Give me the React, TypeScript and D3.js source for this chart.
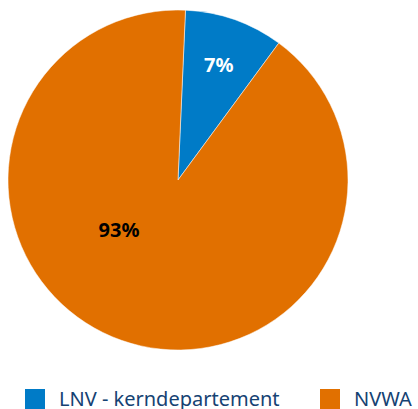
import React from 'react';
import * as d3 from 'd3';

const categories = ['LNV - kerndepartement', 'NVWA'];
const shares = [9.4, 90.6];
const labels = ['7%', '93%'];
const colors = ['#007bc7', '#e17000'];
const labelColors = ['#ffffff', '#000000'];

const width = 418;
const height = 409;
const cx = 178;
const cy = 180;
const radius = 170;
const startAngle = 0.044;

const App = () => {
  const pie = d3
    .pie<number>()
    .sort(null)
    .startAngle(startAngle)
    .endAngle(startAngle + Math.PI * 2)
    .value(d => d);
  const arcs = pie(shares);
  const arc = d3.arc<d3.PieArcDatum<number>>().innerRadius(0).outerRadius(radius);
  const labelArc = d3.arc<d3.PieArcDatum<number>>().innerRadius(radius * 0.72).outerRadius(radius * 0.72);

  // big slice label sits inside, towards the left
  const labelPos = (d: d3.PieArcDatum<number>, i: number) => {
    if (i === 0) return labelArc.centroid(d);
    const a = (230 * Math.PI) / 180;
    return [Math.sin(a) * 77, -Math.cos(a) * 77];
  };

  const legendX = [25, 320];

  return (
    <svg width={width} height={height} style={{ position: 'absolute', left: 0, top: 0 }}>
      <g transform={`translate(${cx},${cy})`}>
        {arcs.map((d, i) => (
          <path key={i} d={arc(d) || ''} fill={colors[i]} stroke="#ffffff" strokeWidth={0.5} />
        ))}
        {arcs.map((d, i) => {
          const [x, y] = labelPos(d, i);
          return (
            <text
              key={i}
              x={x}
              y={y}
              textAnchor="middle"
              dominantBaseline="central"
              fill={labelColors[i]}
              fontFamily="'Noto Sans', sans-serif"
              fontWeight="bold"
              fontSize={20}
            >
              {labels[i]}
            </text>
          );
        })}
      </g>
      {categories.map((c, i) => (
        <g key={c} transform={`translate(${legendX[i]},389)`}>
          <rect width={20} height={20} fill={colors[i]} />
          <text x={34} y={17} fill="#154273" fontFamily="'Noto Sans', sans-serif" fontSize={20}>
            {c}
          </text>
        </g>
      ))}
    </svg>
  );
};

export default App;
